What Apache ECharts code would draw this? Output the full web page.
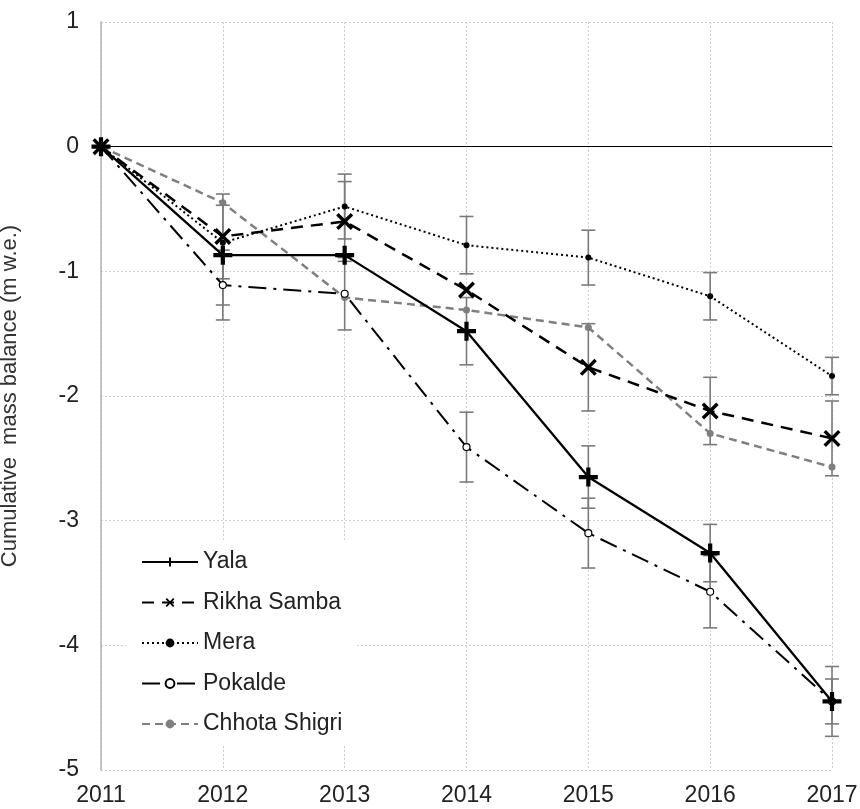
<!DOCTYPE html>
<html>
<head>
<meta charset="utf-8">
<script src="https://cdn.jsdelivr.net/npm/echarts@6/dist/echarts.min.js"></script>
<style>html,body{margin:0;padding:0;background:#fff;}#c{width:860px;height:809px;}</style>
</head>
<body>
<div id="c"></div>
<script>
const years = [2011, 2012, 2013, 2014, 2015, 2016, 2017];
const yTicks = [1, 0, -1, -2, -3, -4, -5];

const yala        = [0, -0.87, -0.87, -1.48, -2.65, -3.26, -4.45];
const rikhaSamba  = [0, -0.72, -0.60, -1.15, -1.77, -2.12, -2.34];
const mera        = [0, -0.77, -0.48, -0.79, -0.89, -1.20, -1.84];
const pokalde     = [0, -1.11, -1.18, -2.41, -3.10, -3.57, -4.45];
const chhotaShigri= [0, -0.45, -1.21, -1.31, -1.45, -2.30, -2.57];

const yalaErr     = [null, 0.40, null, 0.27, 0.25, 0.23, 0.28];
const rikhaErr    = [null, 0.34, 0.32, null, 0.35, 0.27, 0.30];
const meraErr     = [null, null, 0.26, 0.23, 0.22, 0.19, 0.15];
const pokaldeErr  = [null, 0.28, 0.29, 0.28, 0.28, 0.29, 0.18];

const FONT = 'Liberation Sans';
const plusPath = 'path://M7,0H11V7H18V11H11V18H7V11H0V7H7Z';
const xPath = 'path://M0,2L2,0L7,5L12,0L14,2L9,7L14,12L12,14L7,9L2,14L0,12L5,7Z';

function pairs(vals) { return years.map((y, i) => [y, vals[i]]); }
function errPairs(vals, errs) {
  const out = [];
  years.forEach((y, i) => { if (errs[i] != null) out.push([y, vals[i], errs[i]]); });
  return out;
}
const errData = [].concat(
  errPairs(yala, yalaErr),
  errPairs(rikhaSamba, rikhaErr),
  errPairs(mera, meraErr),
  errPairs(pokalde, pokaldeErr)
);

const chart = echarts.init(document.getElementById('c'), null, {renderer: 'canvas'});
chart.setOption({
  animation: false,
  backgroundColor: '#fff',
  grid: {left: 101, right: 28, top: 22, bottom: 39, containLabel: false, outerBoundsMode: 'none'},
  xAxis: {
    type: 'value', min: 2011, max: 2017, interval: 1,
    axisLine: {show: false}, axisTick: {show: false},
    axisLabel: {fontFamily: FONT, fontSize: 23, color: '#222', margin: 14, formatter: v => String(v)},
    splitLine: {show: true, lineStyle: {color: '#cfcfcf', width: 1, type: [2, 2]}}
  },
  yAxis: {
    type: 'value', min: -5, max: 1, interval: 1,
    name: 'Cumulative  mass balance (m w.e.)',
    nameLocation: 'middle', nameGap: 80, nameRotate: 90,
    nameTextStyle: {fontFamily: FONT, fontSize: 22, color: '#333'},
    axisLine: {show: true, lineStyle: {color: '#b0b0b0', width: 1.5}},
    axisTick: {show: false},
    axisLabel: {fontFamily: FONT, fontSize: 23, color: '#222', margin: 22},
    splitLine: {show: true, lineStyle: {color: '#cfcfcf', width: 1, type: [2, 2]}}
  },
  legend: {
    orient: 'vertical', left: 126, top: 540,
    padding: [10, 15], itemGap: 16.5,
    itemWidth: 56, itemHeight: 11,
    backgroundColor: '#fff',
    textStyle: {fontFamily: FONT, fontSize: 23, color: '#222', lineHeight: 24},
    data: ['Yala', 'Rikha Samba', 'Mera', 'Pokalde', 'Chhota Shigri']
  },
  series: [
    {
      name: 'errors', type: 'custom', z: 1,
      data: errData,
      encode: {x: 0, y: 1},
      renderItem: function (params, api) {
        const x = api.value(0), y = api.value(1), e = api.value(2);
        const top = api.coord([x, y + e]);
        const bot = api.coord([x, y - e]);
        const s = {stroke: '#7a7a7a', lineWidth: 1.6};
        const h = 7;
        return {
          type: 'group',
          children: [
            {type: 'line', shape: {x1: top[0], y1: top[1], x2: bot[0], y2: bot[1]}, style: s},
            {type: 'line', shape: {x1: top[0] - h, y1: top[1], x2: top[0] + h, y2: top[1]}, style: s},
            {type: 'line', shape: {x1: bot[0] - h, y1: bot[1], x2: bot[0] + h, y2: bot[1]}, style: s}
          ]
        };
      },
      silent: true
    },
    {
      name: 'Chhota Shigri', type: 'line', z: 3, data: pairs(chhotaShigri),
      symbol: 'circle', symbolSize: 7,
      itemStyle: {color: '#7f7f7f'},
      lineStyle: {color: '#7f7f7f', width: 2.5, type: [8, 5]},
      markLine: {
        silent: true, symbol: 'none', label: {show: false},
        lineStyle: {color: '#000', width: 1, type: 'solid'},
        data: [{yAxis: 0}]
      }
    },
    {
      name: 'Pokalde', type: 'line', z: 4, data: pairs(pokalde),
      symbol: 'circle', symbolSize: 7,
      itemStyle: {color: '#fff', borderColor: '#000', borderWidth: 1.2},
      lineStyle: {color: '#000', width: 2, type: [18, 7, 3, 7]}
    },
    {
      name: 'Mera', type: 'line', z: 5, data: pairs(mera),
      symbol: 'circle', symbolSize: 6,
      itemStyle: {color: '#000'},
      lineStyle: {color: '#000', width: 2, type: [2, 3]}
    },
    {
      name: 'Rikha Samba', type: 'line', z: 6, data: pairs(rikhaSamba),
      symbol: xPath, symbolSize: 17,
      itemStyle: {color: '#000'},
      lineStyle: {color: '#000', width: 2.5, type: [12, 8]}
    },
    {
      name: 'Yala', type: 'line', z: 7, data: pairs(yala),
      symbol: plusPath, symbolSize: 19,
      itemStyle: {color: '#000'},
      lineStyle: {color: '#000', width: 2.3, type: 'solid'}
    }
  ]
});
</script>
</body>
</html>
